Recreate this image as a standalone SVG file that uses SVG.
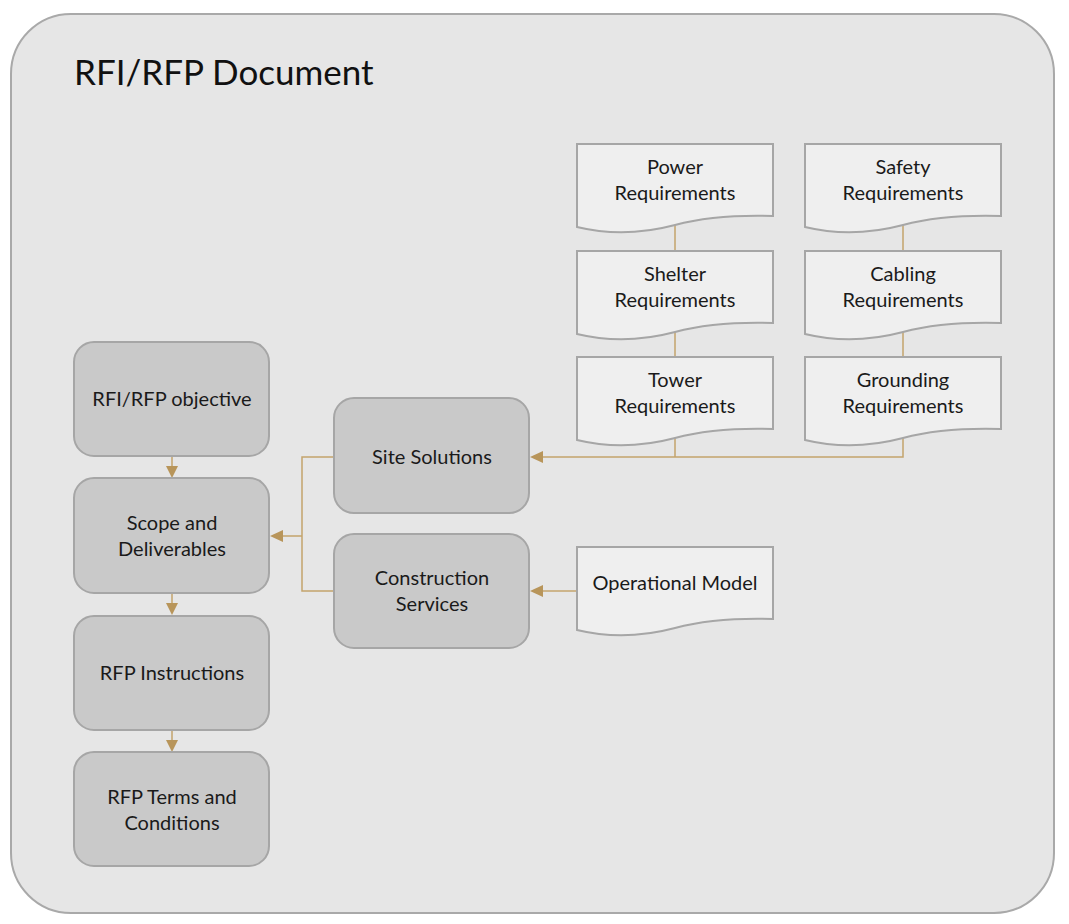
<svg xmlns="http://www.w3.org/2000/svg" width="1069" height="924" viewBox="0 0 1069 924">
  <style>
    .frame { fill: #e6e6e6; stroke: #a9a9a9; stroke-width: 2; }
    .box { fill: #c9c9c9; stroke: #a6a6a6; stroke-width: 2; }
    .doc { fill: #efefef; stroke: #a6a6a6; stroke-width: 2; }
    .lbl { font-family: Lato, "Liberation Sans", sans-serif; font-size: 20px; fill: #1a1a1a; text-anchor: middle; }
    .title { font-family: Lato, "Liberation Sans", sans-serif; font-size: 35px; fill: #111; }
    .wire { fill: none; stroke: #c4a46c; stroke-width: 1.5; }
    .arrow { fill: #b8955a; }
  </style>
  <defs>
    <!-- document shape with wavy bottom, 196 wide -->
    <path id="docShape" d="M0,0 H196 V72 C163,71 128,73 98,81 C68,89 33,91 0,83 Z"/>
  </defs>

  <rect class="frame" x="11" y="14" width="1043" height="899" rx="60" ry="60"/>
  <text class="title" x="74" y="85">RFI/RFP Document</text>

  <!-- connectors -->
  <g id="connectors">
    <path class="wire" d="M675,225 V251 M675,332 V357 M903,225 V251 M903,332 V357"/>
    <path class="wire" d="M675,438 V457 M903,438 V457 H542"/>
    <path class="wire" d="M577,591 H542"/>
    <path class="wire" d="M334,457 H302 V591 H334 M302,536 H282"/>
    <path class="wire" d="M172,456 V467 M172,593 V604 M172,730 V741"/>
    <polygon class="arrow" points="530,457 543,451 543,463"/>
    <polygon class="arrow" points="530,591 543,585 543,597"/>
    <polygon class="arrow" points="270,536 283,530 283,542"/>
    <polygon class="arrow" points="172,478 166,466 178,466"/>
    <polygon class="arrow" points="172,615 166,603 178,603"/>
    <polygon class="arrow" points="172,752 166,740 178,740"/>
  </g>

  <!-- main flow -->
  <g id="objective">
    <rect class="box" x="74" y="342" width="195" height="114" rx="20"/>
    <text class="lbl" x="172" y="406">RFI/RFP objective</text>
  </g>
  <g id="scope">
    <rect class="box" x="74" y="478" width="195" height="115" rx="20"/>
    <text class="lbl" x="172" y="530">Scope and</text>
    <text class="lbl" x="172" y="556">Deliverables</text>
  </g>
  <g id="instructions">
    <rect class="box" x="74" y="616" width="195" height="114" rx="20"/>
    <text class="lbl" x="172" y="680">RFP Instructions</text>
  </g>
  <g id="terms">
    <rect class="box" x="74" y="752" width="195" height="114" rx="20"/>
    <text class="lbl" x="172" y="804">RFP Terms and</text>
    <text class="lbl" x="172" y="830">Conditions</text>
  </g>

  <g id="site-solutions">
    <rect class="box" x="334" y="398" width="195" height="115" rx="20"/>
    <text class="lbl" x="432" y="464">Site Solutions</text>
  </g>
  <g id="construction">
    <rect class="box" x="334" y="534" width="195" height="114" rx="20"/>
    <text class="lbl" x="432" y="585">Construction</text>
    <text class="lbl" x="432" y="611">Services</text>
  </g>

  <!-- requirement documents -->
  <g id="power">
    <use href="#docShape" class="doc" x="577" y="144"/>
    <text class="lbl" x="675" y="174">Power</text>
    <text class="lbl" x="675" y="200">Requirements</text>
  </g>
  <g id="shelter">
    <use href="#docShape" class="doc" x="577" y="251"/>
    <text class="lbl" x="675" y="281">Shelter</text>
    <text class="lbl" x="675" y="307">Requirements</text>
  </g>
  <g id="tower">
    <use href="#docShape" class="doc" x="577" y="357"/>
    <text class="lbl" x="675" y="387">Tower</text>
    <text class="lbl" x="675" y="413">Requirements</text>
  </g>
  <g id="safety">
    <use href="#docShape" class="doc" x="805" y="144"/>
    <text class="lbl" x="903" y="174">Safety</text>
    <text class="lbl" x="903" y="200">Requirements</text>
  </g>
  <g id="cabling">
    <use href="#docShape" class="doc" x="805" y="251"/>
    <text class="lbl" x="903" y="281">Cabling</text>
    <text class="lbl" x="903" y="307">Requirements</text>
  </g>
  <g id="grounding">
    <use href="#docShape" class="doc" x="805" y="357"/>
    <text class="lbl" x="903" y="387">Grounding</text>
    <text class="lbl" x="903" y="413">Requirements</text>
  </g>
  <g id="operational-model">
    <use href="#docShape" class="doc" x="577" y="547"/>
    <text class="lbl" x="675" y="590">Operational Model</text>
  </g>
</svg>
